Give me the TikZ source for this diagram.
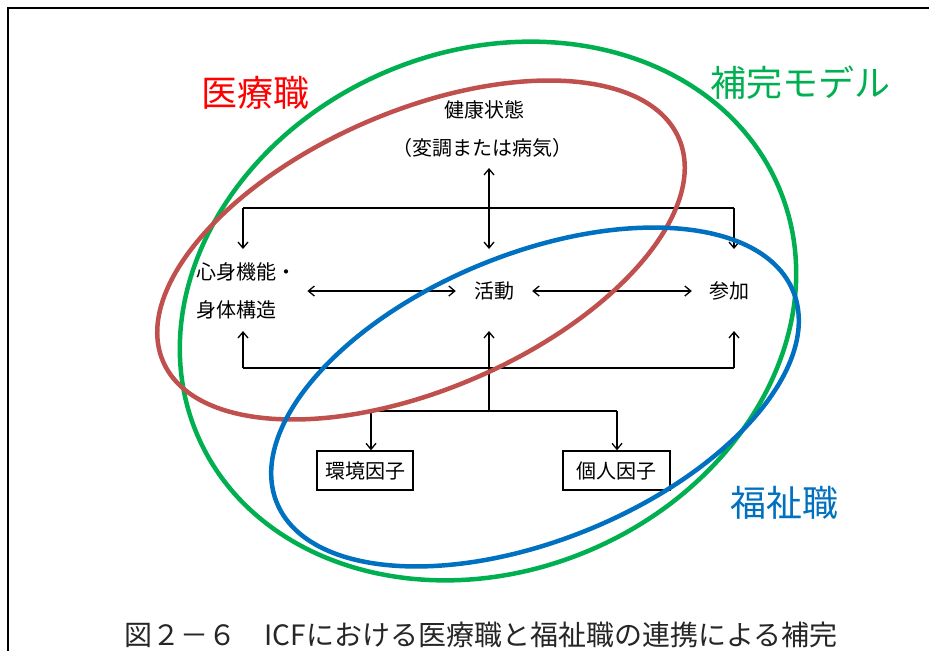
\documentclass[tikz,border=0pt]{standalone}
\usepackage{fontspec}
\newfontfamily\jp{Noto Sans CJK JP}
\usetikzlibrary{arrows.meta}
\definecolor{ringred}{HTML}{C0504D}
\definecolor{ringgreen}{HTML}{00B050}
\definecolor{ringblue}{HTML}{0070C0}
\definecolor{labred}{HTML}{FF0000}
\begin{document}
\begin{tikzpicture}[x=1pt,y=-1pt,
  lbl/.style={font=\jp\fontsize{20}{24}\selectfont, inner sep=0pt},
  big/.style={font=\jp\fontsize{36}{40}\selectfont, inner sep=0pt},
  conn/.style={line width=1.4pt},
  tip/.style={conn,-{Straight Barb[length=6pt,width=10pt,line width=1.3pt]}},
  dtip/.style={conn,{Straight Barb[length=6pt,width=10pt,line width=1.3pt]}-{Straight Barb[length=6pt,width=10pt,line width=1.3pt]}},
  factor/.style={lbl, draw, line width=1.4pt, minimum height=39pt},
  ring/.style={line width=4.5pt}]
\useasboundingbox (0,0) rectangle (929,651);
\fill[white] (0,0) rectangle (929,651);
% frame
\draw[line width=2.2pt] (929,8) -- (8,8) -- (8,651);

% texts
\node[lbl] (health) at (484,110) {健康状態};
\node[lbl] (illness) at (482,148) {（変調または病気）};
\node[lbl, anchor=west, align=left] (body) at (196,291) {心身機能・\\[14pt]身体構造};
\node[lbl] (act) at (494,291) {活動};
\node[lbl] (part) at (729,291) {参加};
\node[factor, minimum width=96pt] (env) at (365,470.5) {環境因子};
\node[factor, minimum width=107pt] (pers) at (616.5,470.5) {個人因子};

% connector junctions
\coordinate (tl) at (243,208);
\coordinate (tr) at (734,208);
\coordinate (bl) at (243,368);
\coordinate (br) at (734,368);
\coordinate (bodyT) at (243,249);
\coordinate (partT) at (734,249);
\coordinate (bodyB) at (243,331);
\coordinate (partB) at (734,331);
\coordinate (hB) at (489,168);
\coordinate (aT) at (489,249);
\coordinate (aB) at (489,331);
\coordinate (fork) at (489,411);
\coordinate (fl) at (371,411);
\coordinate (fr) at (617,411);

\draw[tip] (tl) -- (bodyT);
\draw[tip] (tr) -- (partT);
\draw[conn] (tl) -- (tr);
\draw[dtip] (hB) -- (aT);
\draw[conn] (bl) -- (br);
\draw[tip] (bl) -- (bodyB);
\draw[tip] (br) -- (partB);
\draw[tip] (fork) -- (aB);
\draw[conn] (fl) -- (fr);
\draw[tip] (fl) -- (fl |- env.north);
\draw[tip] (fr) -- (fr |- pers.north);
\draw[dtip, shorten <=11pt, shorten >=18pt] (body.east) -- (act.west);
\draw[dtip, shorten <=18pt, shorten >=17pt] (act.east) -- (part.west);

% rings
\draw[ring, ringgreen, rotate around={23:(488,311)}] (488,311) ellipse [x radius=316, y radius=260];
\draw[ring, ringred, rotate around={23.4:(421,250)}] (421,250) ellipse [x radius=281, y radius=139];
\draw[ring, ringblue, rotate around={22.3:(535,397)}] (535,397) ellipse [x radius=279, y radius=143];

% ring labels
\node[big, text=labred] (medlbl) at (255,93) {医療職};
\node[big, text=ringgreen] (complbl) at (800,83) {補完モデル};
\node[big, text=ringblue] (welflbl) at (784,503) {福祉職};

% caption
\node[font=\jp\fontsize{28}{32}\selectfont, text=black!85, inner sep=0pt] (caption) at (481,635) {図２－６　ICFにおける医療職と福祉職の連携による補完};
\end{tikzpicture}
\end{document}
